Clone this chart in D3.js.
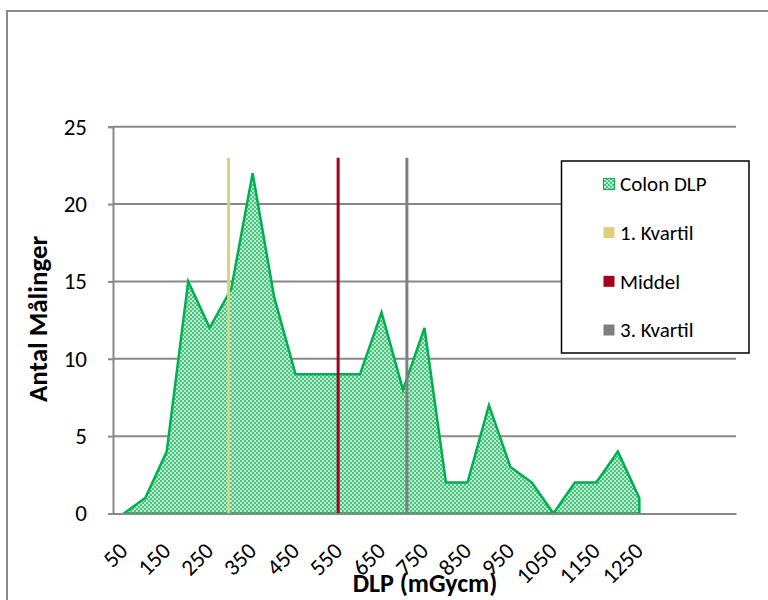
<!DOCTYPE html>
<html>
<head>
<meta charset="utf-8">
<script src="https://cdn.jsdelivr.net/npm/d3@7"></script>
<style>
  html, body { margin: 0; padding: 0; background: #fff; }
  svg { display: block; }
  text { font-family: Carlito, Calibri, Lato, "Open Sans", sans-serif; fill: #000; }
</style>
</head>
<body>
<svg id="chart" width="768" height="600"></svg>
<script>
// DLP bins (mGycm) and number of measurements in each bin
const dlpBins = [50, 100, 150, 200, 250, 300, 350, 400, 450, 500, 550, 600, 650,
                 700, 750, 800, 850, 900, 950, 1000, 1050, 1100, 1150, 1200, 1250];
const counts  = [0, 1, 4, 15, 12, 14.5, 22, 14, 9, 9, 9, 9, 13,
                 8, 12, 2, 2, 7, 3, 2, 0, 2, 2, 4, 1];

// Reference markers: first quartile, mean and third quartile
const markerNames  = ["1. Kvartil", "Middel", "3. Kvartil"];
const markerValues = [294, 549, 709];
const markerHeight = 23;

const xTickLabels = [50, 150, 250, 350, 450, 550, 650, 750, 850, 950, 1050, 1150, 1250];
const yTickValues = [0, 5, 10, 15, 20, 25];

const seriesName = "Colon DLP";
const xTitle = "DLP (mGycm)";
const yTitle = "Antal Målinger";

const markerColors = ["#DCD17A", "#A50021", "#7F7F7F"];
const areaStroke = "#00B050";

const svg = d3.select("#chart");

// plot frame
const plot = { left: 113, right: 736, top: 126.7, bottom: 513.5 };

const x = d3.scaleLinear().domain([25, 1475]).range([plot.left, plot.right]);
const y = d3.scaleLinear().domain([0, 25]).range([plot.bottom, plot.top]);

// checkered fill for the area
const defs = svg.append("defs");
const pat = defs.append("pattern")
  .attr("id", "checker").attr("patternUnits", "userSpaceOnUse")
  .attr("width", 4).attr("height", 4);
pat.append("rect").attr("width", 4).attr("height", 4).attr("fill", "#B8EACC");
pat.append("rect").attr("x", 0).attr("y", 0).attr("width", 2).attr("height", 2).attr("fill", "#4CC383");
pat.append("rect").attr("x", 2).attr("y", 2).attr("width", 2).attr("height", 2).attr("fill", "#4CC383");

// outer chart border
svg.append("rect")
  .attr("x", 7).attr("y", 11).attr("width", 800).attr("height", 640)
  .attr("fill", "none").attr("stroke", "#8A8A8A").attr("stroke-width", 2);

// horizontal gridlines
svg.append("g").selectAll("line")
  .data(yTickValues.filter(v => v > 0))
  .join("line")
  .attr("x1", plot.left).attr("x2", plot.right)
  .attr("y1", d => y(d)).attr("y2", d => y(d))
  .attr("stroke", "#888888").attr("stroke-width", 2);

// area series
const data = dlpBins.map((d, i) => ({ dlp: d, n: counts[i] }));
const area = d3.area()
  .x(d => x(d.dlp))
  .y0(y(0))
  .y1(d => y(d.n));
svg.append("path")
  .datum(data)
  .attr("d", area)
  .attr("fill", "url(#checker)")
  .attr("stroke", areaStroke)
  .attr("stroke-width", 2.5)
  .attr("stroke-linejoin", "miter");

// vertical marker lines
svg.append("g").selectAll("line")
  .data(markerValues)
  .join("line")
  .attr("x1", d => x(d)).attr("x2", d => x(d))
  .attr("y1", y(markerHeight)).attr("y2", y(0))
  .attr("stroke", (d, i) => markerColors[i])
  .attr("stroke-width", 3);

// y axis
const yAxis = d3.axisLeft(y).tickValues(yTickValues).tickSize(5).tickPadding(21);
const gy = svg.append("g").attr("transform", `translate(${plot.left},0)`).call(yAxis);
gy.select(".domain").attr("stroke", "#888888").attr("stroke-width", 2);
gy.selectAll(".tick line").attr("stroke", "#888888").attr("stroke-width", 2);
gy.selectAll(".tick text").attr("font-size", 23).attr("font-family", null);

// x axis
const xAxis = d3.axisBottom(x).tickValues(xTickLabels).tickFormat(d3.format("d"))
  .tickSize(0).tickSizeOuter(0);
const gx = svg.append("g").attr("transform", `translate(0,${plot.bottom})`).call(xAxis);
gx.select(".domain").attr("stroke", "#888888").attr("stroke-width", 2);
gx.selectAll(".tick text")
  .attr("font-size", 23).attr("font-family", null)
  .attr("text-anchor", "end")
  .attr("y", 0).attr("dy", "0.35em")
  .attr("transform", "translate(-1,33) rotate(-45)");

// axis titles
svg.append("text")
  .attr("transform", "translate(38,319) rotate(-90)")
  .attr("text-anchor", "middle").attr("dy", "0.35em")
  .attr("font-size", 27).attr("font-weight", "bold")
  .text(yTitle);
svg.append("text")
  .attr("x", 425).attr("y", 583).attr("dy", "0.35em")
  .attr("text-anchor", "middle")
  .attr("font-size", 26).attr("font-weight", "bold")
  .text(xTitle);

// legend
const legend = svg.append("g");
legend.append("rect")
  .attr("x", 561.5).attr("y", 161).attr("width", 187.5).attr("height", 192)
  .attr("fill", "#fff").attr("stroke", "#000").attr("stroke-width", 1.5);
const items = [{ name: seriesName, fill: "url(#checker)", stroke: areaStroke }]
  .concat(markerNames.map((n, i) => ({ name: n, fill: markerColors[i], stroke: "none" })));
const rowY = d3.scalePoint().domain(items.map(d => d.name)).range([184, 330]);
const row = legend.selectAll("g.item").data(items).join("g")
  .attr("class", "item")
  .attr("transform", d => `translate(0,${rowY(d.name)})`);
row.append("rect")
  .attr("x", 603.5).attr("y", -5.5).attr("width", 11).attr("height", 11)
  .attr("fill", d => d.fill).attr("stroke", d => d.stroke).attr("stroke-width", 1);
row.append("text")
  .attr("x", 620).attr("dy", "0.35em").attr("font-size", 21)
  .text(d => d.name);
</script>
</body>
</html>
